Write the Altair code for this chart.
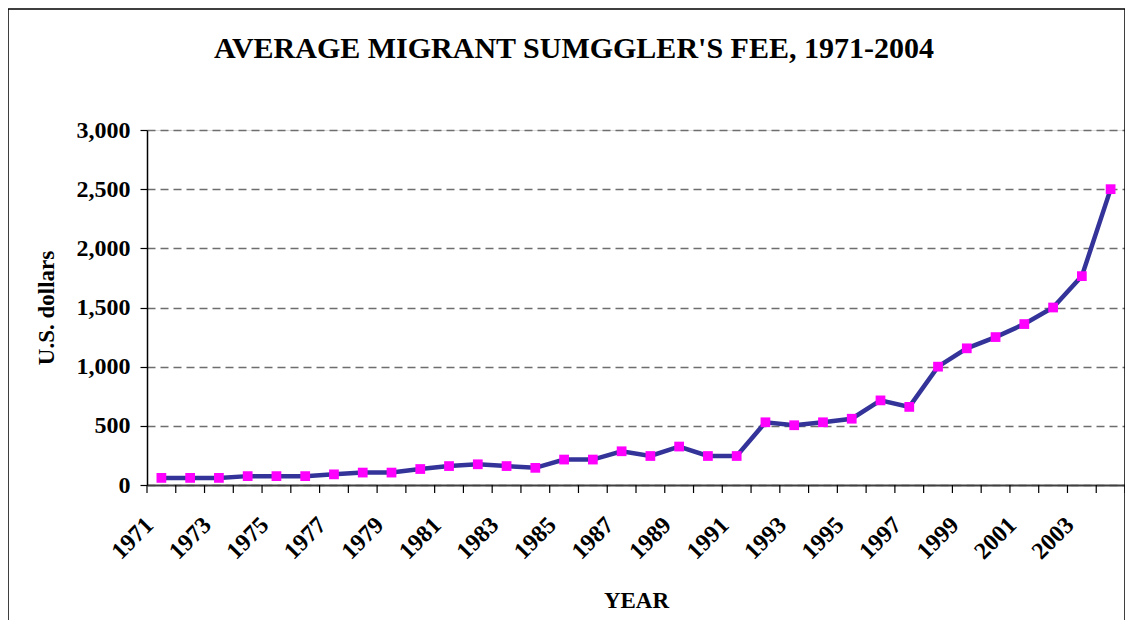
import altair as alt
import pandas as pd

# ---- data ----
years = list(range(1971, 2005))
fees = [60, 60, 60, 75, 75, 75, 90, 105, 105, 135, 160, 175, 160, 145,
        215, 215, 285, 245, 325, 245, 245, 530, 505, 530, 560, 715, 660,
        1000, 1155, 1250, 1360, 1500, 1765, 2500]
label_years = years[::2]
y_ticks = [0, 500, 1000, 1500, 2000, 2500, 3000]
title_text = "AVERAGE MIGRANT SUMGGLER'S FEE, 1971-2004"
x_title = "YEAR"
y_title = "U.S. dollars"

df = pd.DataFrame({"Year": years, "Fee": fees})
# category boundaries (tick marks between categories, as in the original)
bounds = pd.DataFrame({"Year": [y - 0.5 for y in years] + [years[-1] + 0.5]})
one = pd.DataFrame({"k": [0]})

FONT = "Liberation Serif"
W, H = 978, 355

x_scale = alt.Scale(domain=[years[0] - 0.5, years[-1] + 0.5], nice=False, zero=False)
y_scale = alt.Scale(domain=[0, 3000], nice=False)

x_axis = alt.Axis(
    values=label_years, format="d", labelAngle=315, labelAlign="right",
    labelBaseline="middle", labelOffset=-12, labelPadding=36,
    labelOverlap=False, labelFlush=False, labelBound=False,
    ticks=False, tickSize=0, grid=False,
    domainColor="#404040", domainWidth=2,
    labelFont=FONT, labelFontSize=24, labelFontWeight="bold", labelColor="black",
    title=x_title, titleFont=FONT, titleFontSize=23, titleFontWeight="bold",
    titleColor="black", titlePadding=26)

y_axis = alt.Axis(
    values=y_ticks, format=",d", grid=True, gridDash=[8, 5],
    gridColor="#6e6e6e", gridWidth=1.5,
    domainColor="black", domainWidth=1.5, tickColor="black", tickSize=7,
    tickWidth=1.2, labelPadding=10,
    labelFont=FONT, labelFontSize=24, labelFontWeight="bold", labelColor="black",
    title=y_title, titleFont=FONT, titleFontSize=23, titleFontWeight="bold",
    titleColor="black", titlePadding=18)

frame = alt.Chart(one).mark_rect(filled=False, stroke="black", strokeWidth=1.5).encode(
    x=alt.value(-139), x2=alt.value(W), y=alt.value(-121), y2=alt.value(H + 200)
)

title = alt.Chart(one).mark_text(
    text=title_text, font=FONT, fontSize=30, fontWeight="bold", color="black",
    align="center", baseline="alphabetic"
).encode(x=alt.value(427), y=alt.value(-72))

line = alt.Chart(df).mark_line(color="#333399", strokeWidth=4.5).encode(
    x=alt.X("Year:Q", scale=x_scale, axis=x_axis),
    y=alt.Y("Fee:Q", scale=y_scale, axis=y_axis),
)

points = alt.Chart(df).mark_square(size=95, color="#FF00FF", opacity=1).encode(
    x=alt.X("Year:Q", scale=x_scale, axis=x_axis),
    y=alt.Y("Fee:Q", scale=y_scale, axis=y_axis)
)

ticks = alt.Chart(bounds).mark_rule(color="black", strokeWidth=1.2).encode(
    x=alt.X("Year:Q", scale=x_scale, axis=x_axis),
    y=alt.value(H), y2=alt.value(H + 8)
)

chart = alt.layer(frame, line, points, ticks, title).properties(
    width=W, height=H,
    autosize=alt.AutoSizeParams(type="none"),
    padding={"left": 139, "top": 122, "right": 0, "bottom": 135},
).configure_view(stroke=None).configure(background="white")

chart.save("out.html", embed_options={"renderer": "svg", "actions": False})
